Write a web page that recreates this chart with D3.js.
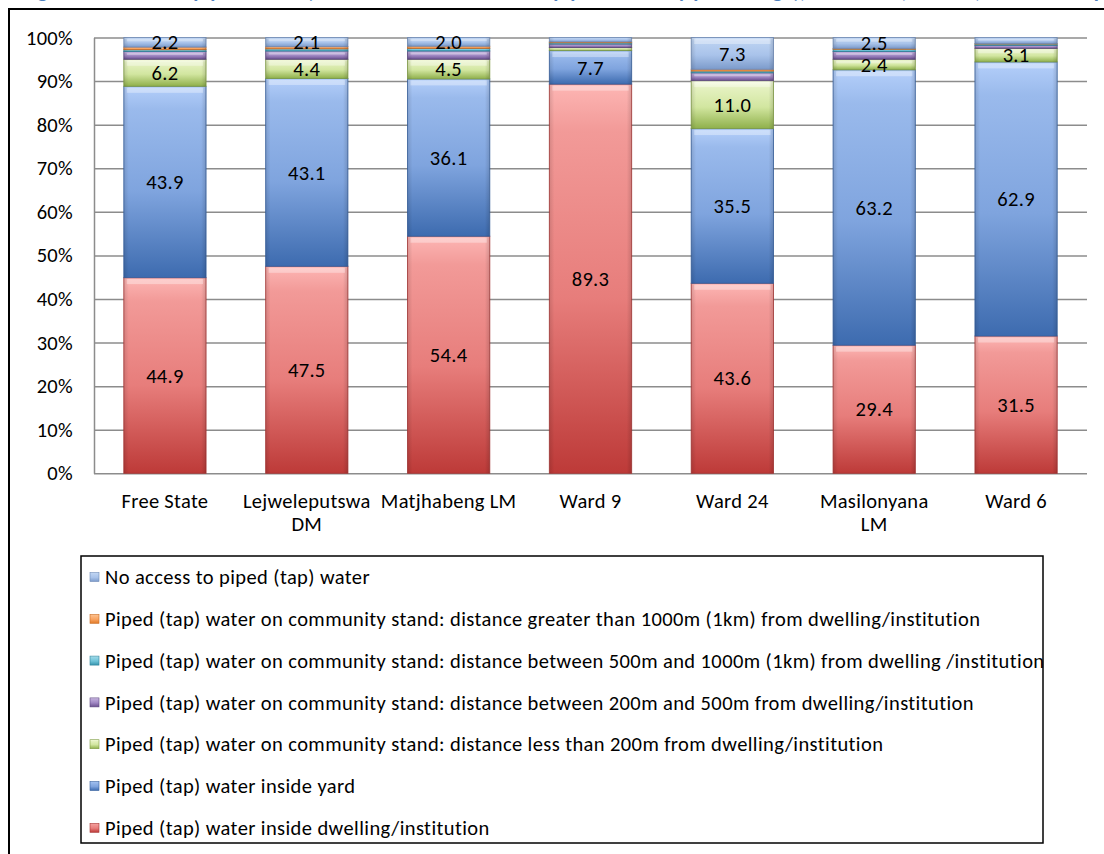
<!DOCTYPE html>
<html>
<head>
<meta charset="utf-8">
<script src="https://cdn.jsdelivr.net/npm/d3@7"></script>
<style>
  html, body { margin: 0; padding: 0; background: #fff; }
  svg { display: block; }
  text { font-family: Calibri, Carlito, Lato, "Noto Sans", sans-serif; letter-spacing: 0.3px; }
  .legend-label { letter-spacing: 0.4px; }
</style>
</head>
<body>
<svg id="chart" width="1104" height="854"></svg>
<script>
// Geographic areas and their wrapped axis labels
const categories = ["Free State", "Lejweleputswa DM", "Matjhabeng LM", "Ward 9", "Ward 24", "Masilonyana LM", "Ward 6"];
const categoryLabelLines = [["Free State"], ["Lejweleputswa", "DM"], ["Matjhabeng LM"], ["Ward 9"], ["Ward 24"], ["Masilonyana", "LM"], ["Ward 6"]];

// Percentages per source of water, bottom-to-top stack order
const insideDwelling = [44.9, 47.5, 54.4, 89.3, 43.6, 29.4, 31.5];
const insideYard     = [43.9, 43.1, 36.1, 7.7, 35.5, 63.2, 62.9];
const standUnder200  = [6.2, 4.4, 4.5, 0.7, 11.0, 2.4, 3.1];
const stand200to500  = [1.8, 1.9, 1.9, 0.8, 1.8, 1.8, 0.7];
const stand500to1000 = [0.4, 0.5, 0.6, 0.3, 0.4, 0.5, 0.3];
const standOver1000  = [0.6, 0.5, 0.5, 0.2, 0.4, 0.2, 0.1];
const noAccess       = [2.2, 2.1, 2.0, 1.0, 7.3, 2.5, 1.4];

const seriesNames = [
  "Piped (tap) water inside dwelling/institution",
  "Piped (tap) water inside yard",
  "Piped (tap) water on community stand: distance less than 200m from dwelling/institution",
  "Piped (tap) water on community stand: distance between 200m and 500m from dwelling/institution",
  "Piped (tap) water on community stand: distance between 500m and 1000m (1km) from dwelling /institution",
  "Piped (tap) water on community stand: distance greater than 1000m (1km) from dwelling/institution",
  "No access to piped (tap) water"
];
const seriesValues = [insideDwelling, insideYard, standUnder200, stand200to500, stand500to1000, standOver1000, noAccess];

const yTickValues = [0, 0.1, 0.2, 0.3, 0.4, 0.5, 0.6, 0.7, 0.8, 0.9, 1.0];

const titleText = "Figure 8: Access to piped water (households with access to piped water by percentage), Free State, district, local municipality and wards";

const FONT = 20.5;

// Gradient colour stops per series: light top, base middle, dark bottom
const palette = [
  ["#fdb6b4", "#e77d7b", "#bd3a38"],
  ["#b4cffa", "#7fa4de", "#3d6baf"],
  ["#f9fde6", "#d2e6a0", "#8fb04b"],
  ["#dccdf0", "#9f86c2", "#6a5090"],
  ["#bfe8f3", "#6fc3d8", "#3795ae"],
  ["#fed6ae", "#f9a462", "#e07a28"],
  ["#cfe0f8", "#a9c3ea", "#7c9bcb"]
];
const edgeColors = ["#a63533", "#355f9d", "#7f9c43", "#5d467f", "#2f849b", "#c96b22", "#6d89b6"];

const svg = d3.select("#chart");
const defs = svg.append("defs");

palette.forEach((p, i) => {
  const g = defs.append("linearGradient")
    .attr("id", "grad" + i).attr("x1", 0).attr("y1", 0).attr("x2", 0).attr("y2", 1);
  g.append("stop").attr("offset", "0%").attr("stop-color", p[0]);
  g.append("stop").attr("offset", "12%").attr("stop-color", d3.interpolateRgb(p[0], p[1])(0.5));
  g.append("stop").attr("offset", "55%").attr("stop-color", p[1]);
  g.append("stop").attr("offset", "100%").attr("stop-color", p[2]);
});
// soft horizontal shading for the bevelled sides of each segment
const side = defs.append("linearGradient").attr("id", "sideShade").attr("x1", 0).attr("y1", 0).attr("x2", 1).attr("y2", 0);
side.append("stop").attr("offset", "0%").attr("stop-color", "#000").attr("stop-opacity", 0.12);
side.append("stop").attr("offset", "6%").attr("stop-color", "#000").attr("stop-opacity", 0);
side.append("stop").attr("offset", "94%").attr("stop-color", "#000").attr("stop-opacity", 0);
side.append("stop").attr("offset", "100%").attr("stop-color", "#000").attr("stop-opacity", 0.14);

// Title (runs above the top edge of the frame)
svg.append("text")
  .attr("x", 22).attr("y", -2)
  .attr("fill", "#4f81bd")
  .attr("font-weight", "bold")
  .attr("font-size", 21)
  .text(titleText);

// Outer chart frame
svg.append("rect")
  .attr("x", 9).attr("y", 9).attr("width", 1200).attr("height", 900)
  .attr("fill", "none").attr("stroke", "#000").attr("stroke-width", 2);

const plotLeft = 94, plotRight = 1087, plotTop = 37.5, plotBottom = 473.3;

const x = d3.scaleBand().domain(categories).range([plotLeft, plotRight])
  .paddingInner(0.42).paddingOuter(0.21);
const y = d3.scaleLinear().domain([0, 1]).range([plotBottom, plotTop]);

// Gridlines + y axis labels
const yAxis = d3.axisLeft(y)
  .tickValues(yTickValues)
  .tickFormat(d3.format(".0%"))
  .tickSizeInner(-(plotRight - plotLeft))
  .tickSizeOuter(0)
  .tickPadding(21);

const gy = svg.append("g").attr("transform", `translate(${plotLeft},0)`).call(yAxis);
gy.select(".domain").attr("stroke", "#8c8c8c").attr("stroke-width", 1.5);
gy.selectAll(".tick line").attr("stroke", "#8c8c8c").attr("stroke-width", 1.5);
gy.selectAll(".tick text")
  .attr("font-size", FONT).attr("fill", "#000")
  .style("font-family", "Calibri, Carlito, Lato, 'Noto Sans', sans-serif");

// Stacked, normalised bars
const rows = categories.map((c, j) => {
  const r = { category: c };
  seriesValues.forEach((vals, i) => { r["s" + i] = vals[j]; });
  return r;
});
const keys = seriesValues.map((_, i) => "s" + i);
const stacked = d3.stack().keys(keys).offset(d3.stackOffsetExpand)(rows);

const bars = svg.append("g");
stacked.forEach((layer, i) => {
  const g = bars.append("g");
  layer.forEach(d => {
    const x0 = x(d.data.category);
    const yTop = y(d[1]);
    const h = y(d[0]) - y(d[1]);
    g.append("rect")
      .attr("x", x0).attr("y", yTop)
      .attr("width", x.bandwidth()).attr("height", h)
      .attr("fill", `url(#grad${i})`)
      .attr("stroke", edgeColors[i]).attr("stroke-width", 1).attr("stroke-opacity", 0.8);
    g.append("rect")
      .attr("x", x0).attr("y", yTop)
      .attr("width", x.bandwidth()).attr("height", h)
      .attr("fill", "url(#sideShade)");
    if (h > 6) {
      g.append("rect")
        .attr("x", x0 + 3).attr("y", yTop + 1.5)
        .attr("width", x.bandwidth() - 6).attr("height", Math.min(5, h / 4))
        .attr("fill", "#fff").attr("opacity", 0.35);
    }
  });
});

// Value labels on segments of 2% and above
const labels = svg.append("g");
stacked.forEach((layer, i) => {
  layer.forEach((d, j) => {
    const v = seriesValues[i][j];
    if (v < 2) return;
    labels.append("text")
      .attr("x", x(d.data.category) + x.bandwidth() / 2)
      .attr("y", (y(d[0]) + y(d[1])) / 2)
      .attr("dy", "0.35em")
      .attr("text-anchor", "middle")
      .attr("font-size", FONT)
      .attr("fill", "#000")
      .text(d3.format(".1f")(v));
  });
});

// Category labels
const xLab = svg.append("g");
categories.forEach((c, j) => {
  const cx = x(c) + x.bandwidth() / 2;
  const t = xLab.append("text")
    .attr("x", cx).attr("y", 508)
    .attr("text-anchor", "middle")
    .attr("font-size", FONT)
    .attr("fill", "#000");
  categoryLabelLines[j].forEach((ln, k) => {
    t.append("tspan").attr("x", cx).attr("dy", k === 0 ? 0 : 23).text(ln);
  });
});

// Legend
const legend = svg.append("g");
legend.append("rect")
  .attr("x", 81).attr("y", 556).attr("width", 962).attr("height", 287)
  .attr("fill", "#fff").attr("stroke", "#000").attr("stroke-width", 1.5);

const legendOrder = d3.range(seriesNames.length).reverse();
legendOrder.forEach((si, k) => {
  const cy = 577 + k * 41.8;
  legend.append("rect")
    .attr("x", 90).attr("y", cy - 4.5).attr("width", 9).attr("height", 9)
    .attr("fill", `url(#grad${si})`)
    .attr("stroke", edgeColors[si]).attr("stroke-width", 0.6);
  legend.append("text")
    .attr("class", "legend-label")
    .attr("x", 105).attr("y", cy).attr("dy", "0.35em")
    .attr("font-size", FONT).attr("fill", "#000")
    .text(seriesNames[si]);
});
</script>
</body>
</html>
